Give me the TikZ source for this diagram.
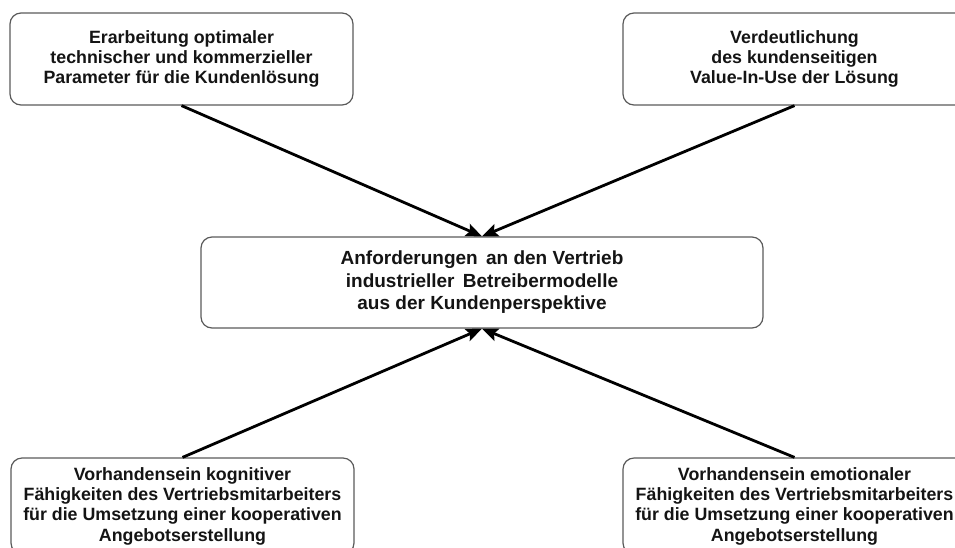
\documentclass[tikz,border=0pt]{standalone}
\usepackage{fontspec}
\setmainfont{Liberation Sans}
\usetikzlibrary{arrows.meta}
\definecolor{frame}{HTML}{5A5A5A}
\definecolor{ink}{HTML}{141414}

\begin{document}
\begin{tikzpicture}[x=1pt,y=-1pt,
  box/.style={draw=frame,line width=1.2pt,rounded corners=11pt,inner sep=0pt,
    minimum width=343pt,minimum height=92pt,align=center,text=ink,
    font=\bfseries\fontsize{17.8}{20.3}\selectfont},
  arr/.style={line width=2.8pt,-{Stealth[length=16pt,width=13pt,inset=3pt]}}]
  \useasboundingbox (0,0) rectangle (955,547);
  % outer boxes
  \node[box] (tl) at (181.5,59) {Erarbeitung optimaler\\technischer und kommerzieller\\Parameter f\"ur die Kundenl\"osung};
  \node[box] (tr) at (794.5,59) {Verdeutlichung\\des kundenseitigen\\Value-In-Use der L\"osung};
  \node[box,minimum height=96pt] (bl) at (182.5,506) {Vorhandensein kognitiver\\F\"ahigkeiten des Vertriebsmitarbeiters\\f\"ur die Umsetzung einer kooperativen\\Angebotserstellung};
  \node[box,minimum height=96pt] (br) at (794.5,506) {Vorhandensein emotionaler\\F\"ahigkeiten des Vertriebsmitarbeiters\\f\"ur die Umsetzung einer kooperativen\\Angebotserstellung};
  % centre
  \node[box,minimum width=562pt,minimum height=91pt,
    font=\bfseries\fontsize{19}{22.5}\selectfont] (c) at (482,282.5)
    {Anforderungen\hspace{3pt} an den Vertrieb\\industrieller\hspace{3pt} Betreibermodelle\\aus der Kundenperspektive};
  % arrows
  \draw[arr] (tl.south) -- (c.north);
  \draw[arr] (tr.south) -- (c.north);
  \draw[arr] (bl.north) -- (c.south);
  \draw[arr] (br.north) -- (c.south);
\end{tikzpicture}
\end{document}
